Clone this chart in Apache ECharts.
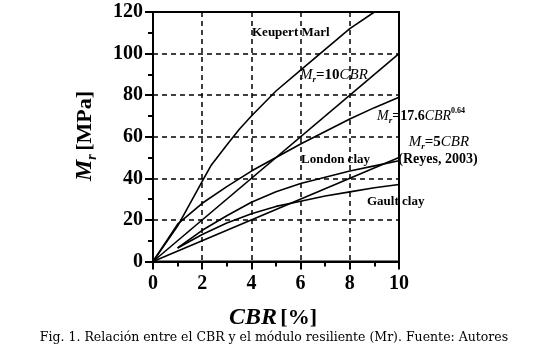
<!DOCTYPE html>
<html>
<head>
<meta charset="utf-8">
<script src="https://cdn.jsdelivr.net/npm/echarts@6/dist/echarts.min.js"></script>
<style>
  html, body { margin: 0; padding: 0; background: #fff; }
  #chart { width: 550px; height: 347px; }
</style>
</head>
<body>
<div id="chart"></div>
<script>
const SERIF = "'Liberation Serif', 'Times New Roman', serif"

// values (CBR %, Mr MPa)
const keupertX = [0, 1, 2, 2.35, 3, 3.5, 4, 5, 6, 7, 8, 9]
const keupertY = [0, 17, 38.5, 46, 56, 63.5, 70, 82, 92, 102, 112, 120]
const tenCbrX = [0, 10]
const tenCbrY = [0, 100]
const powCbrX = [0, 1, 2, 3, 4, 5, 6, 7, 8, 9, 10]
const powCbrY = [0, 18, 28, 36, 43.5, 50, 56.5, 62.5, 68.5, 74, 79]
const fiveCbrX = [0, 10]
const fiveCbrY = [0, 50]
const londonX = [1, 2, 3, 4, 5, 6, 7, 8, 9, 10]
const londonY = [6.5, 15, 22, 28.5, 33.5, 37.5, 40.5, 43.5, 46, 48.5]
const gaultX = [1, 2, 3, 4, 5, 6, 7, 8, 9, 10]
const gaultY = [6.5, 13, 18.5, 23, 26.5, 29, 31.5, 33.5, 35.5, 37]

const zip = (xs, ys) => xs.map((x, i) => [x, ys[i]])

const lines = [
  ['Keupert Marl', keupertX, keupertY],
  ['Mr=10CBR', tenCbrX, tenCbrY],
  ['Mr=17.6CBR^0.64', powCbrX, powCbrY],
  ['Mr=5CBR', fiveCbrX, fiveCbrY],
  ['London clay', londonX, londonY],
  ['Gault clay', gaultX, gaultY],
]

const chart = echarts.init(document.getElementById('chart'))

const axisCommon = {
  axisLine: { lineStyle: { color: '#000', width: 2 } },
  axisTick: { length: 8, lineStyle: { color: '#000', width: 2 } },
  minorTick: { show: true, splitNumber: 2, length: 5, lineStyle: { color: '#000', width: 2 } },
  splitLine: { show: true, lineStyle: { color: '#000', width: 1.5, type: [5, 4] } },
  axisLabel: { color: '#000', fontFamily: SERIF, fontWeight: 'bold', fontSize: 20 },
}

const bold = { fontFamily: SERIF, fontWeight: 'bold', fill: '#000' }
const mathRich = (size) => ({
  m: { ...bold, fontStyle: 'italic', fontWeight: 'normal', fontSize: size, lineHeight: 18, verticalAlign: 'middle' },
  s: { ...bold, fontStyle: 'italic', fontSize: 9, lineHeight: 18, verticalAlign: 'bottom' },
  b: { ...bold, fontSize: size, lineHeight: 18, verticalAlign: 'middle' },
  p: { ...bold, fontSize: 8, lineHeight: 18, verticalAlign: 'top' },
})

chart.setOption({
  backgroundColor: '#fff',
  animation: false,
  grid: {
    left: 153, top: 12, width: 246, height: 249.5,
    show: true, borderColor: '#000', borderWidth: 2, backgroundColor: 'transparent',
  },
  xAxis: {
    type: 'value', min: 0, max: 10, interval: 2,
    ...axisCommon,
    axisLabel: { ...axisCommon.axisLabel, margin: 12 },
  },
  yAxis: {
    type: 'value', min: 0, max: 120, interval: 20,
    ...axisCommon,
    axisLabel: { ...axisCommon.axisLabel, margin: 10 },
  },
  series: lines.map(([name, xs, ys]) => ({
    name,
    type: 'line',
    showSymbol: false,
    lineStyle: { color: '#000', width: 1.6 },
    data: zip(xs, ys),
  })),
  graphic: [
    // y axis title
    {
      type: 'text', x: 85, y: 136, rotation: Math.PI / 2,
      style: {
        text: '{m|M}{s|r} {b|[MPa]}',
        align: 'center', verticalAlign: 'middle',
        rich: {
          m: { ...bold, fontStyle: 'italic', fontSize: 24, lineHeight: 28, verticalAlign: 'middle' },
          s: { ...bold, fontStyle: 'italic', fontSize: 14, lineHeight: 28, verticalAlign: 'bottom' },
          b: { ...bold, fontSize: 22, lineHeight: 28, verticalAlign: 'middle' },
        },
      },
    },
    // x axis title
    {
      type: 'text', x: 273, y: 318,
      style: {
        text: '{i|CBR} {b|[%]}',
        align: 'center', verticalAlign: 'middle',
        rich: {
          i: { ...bold, fontStyle: 'italic', fontSize: 24 },
          b: { ...bold, fontSize: 22 },
        },
      },
    },
    // caption
    {
      type: 'text', x: 274, y: 338,
      style: {
        text: 'Fig. 1. Relación entre el CBR y el módulo resiliente (Mr). Fuente: Autores',
        align: 'center', verticalAlign: 'middle',
        fontFamily: "'DejaVu Serif', serif", fontSize: 12.5, fill: '#000',
      },
    },
    // curve labels
    { type: 'text', x: 252, y: 33, style: { ...bold, text: 'Keupert Marl', fontSize: 13, verticalAlign: 'middle' } },
    { type: 'text', x: 300, y: 75, style: { text: '{m|M}{s|r}{b|=10}{m|CBR}', verticalAlign: 'middle', rich: mathRich(15) } },
    { type: 'text', x: 377, y: 116, style: { text: '{m|M}{s|r}{b|=17.6}{m|CBR}{p|0.64}', verticalAlign: 'middle', rich: mathRich(14) } },
    { type: 'text', x: 439, y: 142, style: { text: '{m|M}{s|r}{b|=5}{m|CBR}', align: 'center', verticalAlign: 'middle', rich: mathRich(15) } },
    { type: 'text', x: 438, y: 159, style: { ...bold, text: '(Reyes, 2003)', fontSize: 14, align: 'center', verticalAlign: 'middle' } },
    { type: 'text', x: 301, y: 160, style: { ...bold, text: 'London clay', fontSize: 13, verticalAlign: 'middle' } },
    { type: 'text', x: 367, y: 202, style: { ...bold, text: 'Gault clay', fontSize: 13, verticalAlign: 'middle' } },
  ],
})
</script>
</body>
</html>
